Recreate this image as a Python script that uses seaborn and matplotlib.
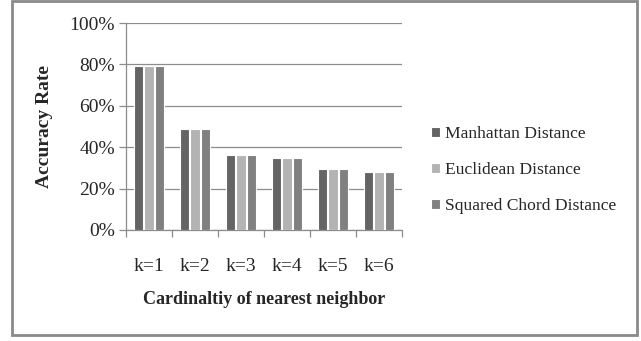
import matplotlib
matplotlib.use("Agg")
import matplotlib.pyplot as plt
import seaborn as sns
import pandas as pd
from matplotlib.patches import Rectangle
from matplotlib.ticker import PercentFormatter, FixedLocator

categories = ["k=1", "k=2", "k=3", "k=4", "k=5", "k=6"]
manhattan = [0.79, 0.49, 0.36, 0.35, 0.295, 0.28]
euclidean = [0.79, 0.49, 0.36, 0.35, 0.295, 0.28]
squared_chord = [0.79, 0.49, 0.36, 0.35, 0.295, 0.28]
series_names = ["Manhattan Distance", "Euclidean Distance", "Squared Chord Distance"]
colors = ["#646464", "#b3b3b3", "#808080"]

rows = []
for name, vals in zip(series_names, [manhattan, euclidean, squared_chord]):
    for c, v in zip(categories, vals):
        rows.append({"k": c, "rate": v, "metric": name})
df = pd.DataFrame(rows)

sns.set_theme(style="white")
plt.rcParams["font.family"] = ["Liberation Serif", "DejaVu Serif"]

fig = plt.figure(figsize=(6.41, 3.41), dpi=100)
ax = fig.add_axes([126 / 641, 1 - 230 / 341, 276 / 641, 207 / 341])

sns.barplot(data=df, x="k", y="rate", hue="metric", palette=colors,
            width=0.68, gap=0.06, saturation=1, ax=ax,
            edgecolor="white", linewidth=0.8, zorder=3)

ax.set_ylim(0, 1)
ax.set_xlim(-0.5, len(categories) - 0.5)
ax.yaxis.set_major_formatter(PercentFormatter(1.0, decimals=0))
ax.set_yticks([0, 0.2, 0.4, 0.6, 0.8, 1.0])
ax.yaxis.grid(True, color="#8c8c8c", linewidth=0.9, zorder=0)
ax.set_axisbelow(True)

for side in ["top", "right"]:
    ax.spines[side].set_visible(False)
for side in ["left", "bottom"]:
    ax.spines[side].set_color("#8c8c8c")
    ax.spines[side].set_linewidth(0.9)

ax.tick_params(axis="y", which="major", direction="out", length=5, width=0.9,
               color="#8c8c8c", labelsize=14, pad=3, left=True)
ax.tick_params(axis="x", which="major", length=0, labelsize=14, pad=20)
ax.xaxis.set_minor_locator(FixedLocator([i - 0.5 for i in range(len(categories) + 1)]))
ax.tick_params(axis="x", which="minor", direction="out", length=5, width=0.9,
               color="#8c8c8c", bottom=True)

ax.set_xlabel("Cardinaltiy of nearest neighbor", fontsize=13, fontweight="bold",
              labelpad=12)
ax.set_ylabel("Accuracy Rate", fontsize=14, fontweight="bold", labelpad=12)

handles, labels = ax.get_legend_handles_labels()
ax.legend(handles, labels, loc="center left", bbox_to_anchor=(424 / 641, 1 - 170 / 341),
          bbox_transform=fig.transFigure, frameon=False, fontsize=12.6,
          handlelength=0.5, handleheight=0.5, handletextpad=0.3,
          labelspacing=1.15, borderaxespad=0)

fig.patches.append(Rectangle((12 / 641, 1 - 335 / 341), 625 / 641, 334 / 341,
                             transform=fig.transFigure, fill=False,
                             edgecolor="#8a8a8a", linewidth=2))

fig.savefig("out.png", dpi=100, facecolor="white")
